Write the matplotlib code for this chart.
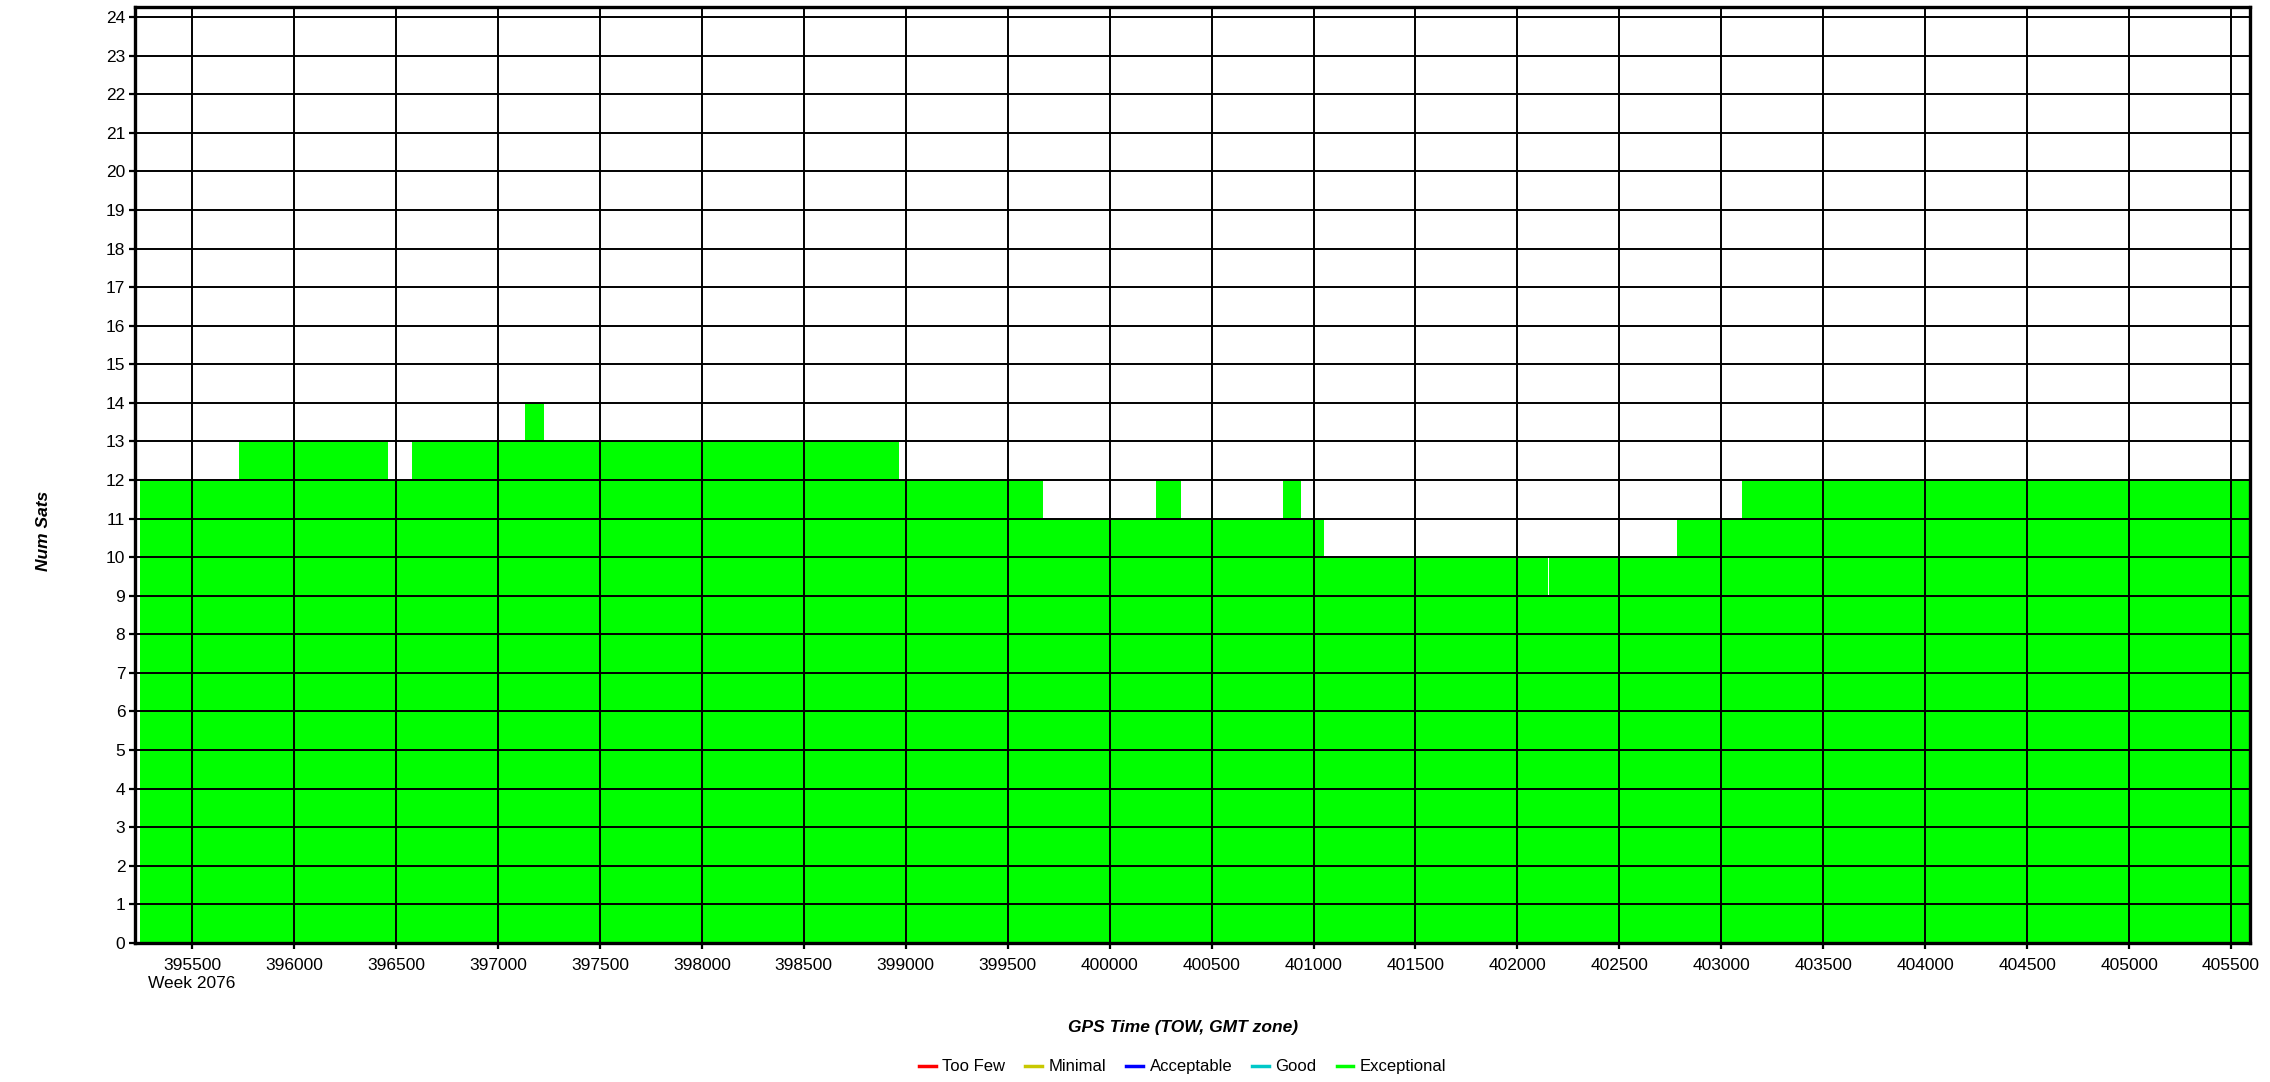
import numpy as np
import matplotlib
matplotlib.use("Agg")
import matplotlib.pyplot as plt
from matplotlib.lines import Line2D

plt.rcParams['font.family'] = ['Liberation Sans', 'DejaVu Sans']

# ---------------- DATA ---------------- #
# step changes in satellite count (GPS TOW seconds, week 2076)
times = [395242, 395732, 396460, 396579, 397133, 397228, 398969, 399672,
         400226, 400352, 400852, 400939, 401050, 402150, 402157, 402781,
         403100, 405593]
num_sats = [12, 13, 12, 13, 14, 13, 12, 11,
            12, 11, 12, 11, 10, 9, 10, 11,
            12, 12]

x_ticks = [395500, 396000, 396500, 397000, 397500, 398000, 398500, 399000,
           399500, 400000, 400500, 401000, 401500, 402000, 402500, 403000,
           403500, 404000, 404500, 405000, 405500]
week_label = "Week 2076"

legend_names = ["Too Few", "Minimal", "Acceptable", "Good", "Exceptional"]
legend_colors = ["#ff0000", "#c8c800", "#0000ff", "#00c8c8", "#00ff00"]

# ---------------- PLOT ---------------- #
fig = plt.figure(figsize=(22.7, 10.82), dpi=100)
ax = fig.add_axes([0.0595, 0.1285, 0.9317, 0.865])

ax.fill_between(times, num_sats, 0, step="post", color="#00ff00",
                linewidth=0, antialiased=False, zorder=1)

ax.set_xlim(395220, 405593)
ax.set_ylim(0, 24.26)

ax.set_yticks(range(0, 25))
ax.set_xticks(x_ticks)
labels = [str(t) for t in x_ticks]
labels[0] = labels[0] + "\n" + week_label
ax.set_xticklabels(labels)

ax.grid(True, color="black", linewidth=1.4, zorder=2)
ax.set_axisbelow(False)

for s in ax.spines.values():
    s.set_linewidth(2.4)
    s.set_color("black")
    s.set_zorder(3)

ax.tick_params(axis="both", labelsize=12.5, width=1.6, length=4, color="black")
ax.tick_params(axis="x", pad=7)
ax.tick_params(axis="y", pad=3)

fig.text(0.521, 0.0508, "GPS Time (TOW, GMT zone)", ha="center", va="center",
         fontsize=12.5, fontweight="bold", style="italic")
fig.text(0.019, 0.509, "Num Sats", ha="center", va="center", rotation=90,
         fontsize=12.5, fontweight="bold", style="italic")

handles = [Line2D([0], [0], color=c, linewidth=2.5) for c in legend_colors]
fig.legend(handles, legend_names, loc="center", bbox_to_anchor=(0.521, 0.014),
           ncol=5, frameon=False, fontsize=12, handlelength=1.0,
           handletextpad=0.4, columnspacing=1.2)

fig.savefig("out.png", dpi=100)
